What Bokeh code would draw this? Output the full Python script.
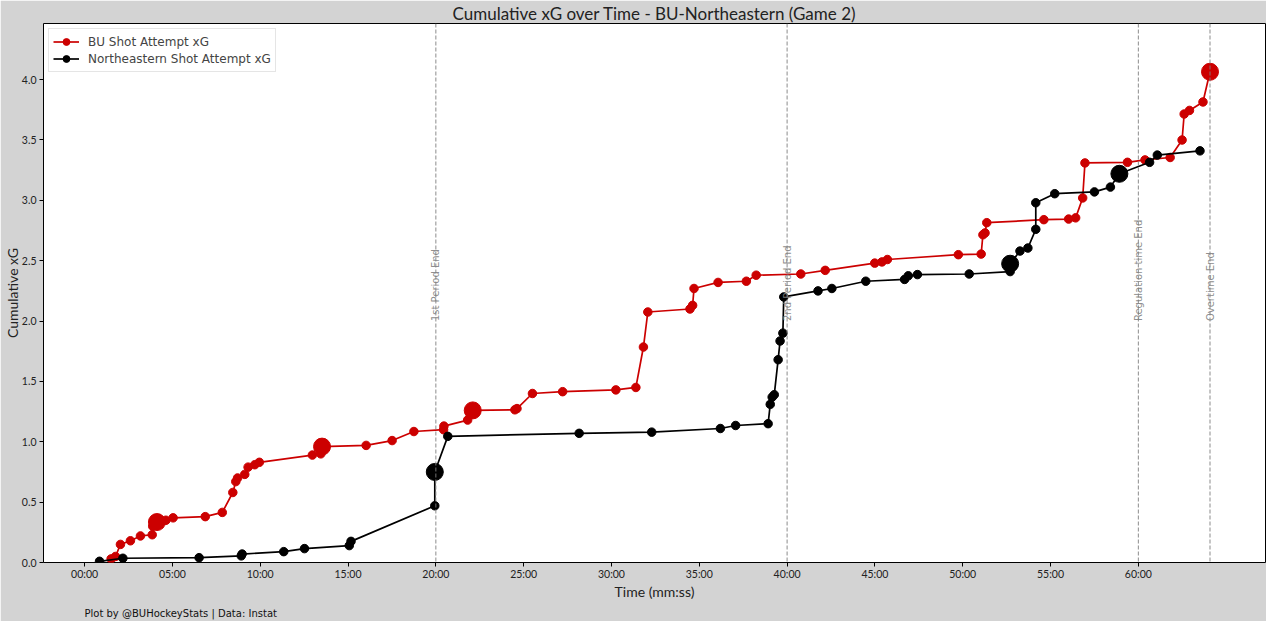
import math
from bokeh.plotting import figure
from bokeh.models import (ColumnDataSource, Span, Label, Legend, LegendItem,
                          FixedTicker, Title, Range1d)
from bokeh.embed import file_html
from bokeh.resources import INLINE

# ---------------- data (time in minutes, cumulative xG) ----------------
BU_TIME = [1.51, 1.76, 2.04, 2.61, 3.18, 3.85, 3.88, 4.12, 4.63, 5.04,
           6.87, 7.84, 8.44, 8.61, 8.71, 9.12, 9.31, 9.69, 9.95, 12.97,
           13.45, 13.52, 16.03, 17.51, 18.75, 20.44, 20.46, 21.81, 22.10, 24.50,
           24.62, 25.50, 27.22, 30.25, 31.39, 31.82, 32.07, 34.47, 34.62, 34.70,
           36.07, 37.68, 38.24, 40.78, 42.17, 44.99, 45.40, 45.71, 49.75, 51.05,
           51.15, 51.27, 51.37, 54.62, 56.03, 56.43, 56.83, 56.96, 59.38, 60.38,
           61.81, 62.49, 62.61, 62.91, 63.68, 64.08]
BU_XG = [0.03, 0.05, 0.15, 0.18, 0.22, 0.23, 0.30, 0.335, 0.35, 0.37,
         0.38, 0.415, 0.58, 0.67, 0.70, 0.73, 0.79, 0.81, 0.83, 0.89,
         0.90, 0.96, 0.97, 1.01, 1.085, 1.10, 1.13, 1.18, 1.26, 1.265,
         1.275, 1.40, 1.415, 1.43, 1.45, 1.785, 2.075, 2.10, 2.13, 2.27,
         2.32, 2.33, 2.38, 2.39, 2.42, 2.48, 2.49, 2.51, 2.55, 2.555,
         2.715, 2.73, 2.815, 2.84, 2.845, 2.855, 3.02, 3.31, 3.315, 3.335,
         3.355, 3.50, 3.715, 3.745, 3.815, 4.065]
BU_GOAL = [0, 0, 0, 0, 0, 0, 0, 1, 0, 0,
           0, 0, 0, 0, 0, 0, 0, 0, 0, 0,
           0, 1, 0, 0, 0, 0, 0, 0, 1, 0,
           0, 0, 0, 0, 0, 0, 0, 0, 0, 0,
           0, 0, 0, 0, 0, 0, 0, 0, 0, 0,
           0, 0, 0, 0, 0, 0, 0, 0, 0, 0,
           0, 0, 0, 0, 0, 1]

NU_TIME = [0.85, 2.18, 6.52, 8.92, 8.97, 11.34, 12.52, 15.07, 15.17, 19.94,
           19.94, 20.68, 28.16, 32.29, 36.20, 37.07, 38.92, 39.04, 39.15, 39.27,
           39.49, 39.60, 39.76, 39.81, 41.76, 42.55, 44.48, 46.69, 46.90, 47.42,
           50.37, 52.70, 52.70, 53.26, 53.71, 54.16, 54.16, 55.24, 57.50, 58.41,
           58.92, 60.64, 61.08, 63.51]
NU_XG = [0.01, 0.035, 0.04, 0.055, 0.07, 0.09, 0.115, 0.14, 0.175, 0.47,
         0.75, 1.045, 1.07, 1.08, 1.11, 1.135, 1.15, 1.31, 1.37, 1.39,
         1.68, 1.835, 1.90, 2.20, 2.25, 2.27, 2.33, 2.345, 2.375, 2.385,
         2.39, 2.41, 2.475, 2.58, 2.605, 2.76, 2.98, 3.055, 3.07, 3.11,
         3.22, 3.315, 3.375, 3.41]
NU_GOAL = [0, 0, 0, 0, 0, 0, 0, 0, 0, 0,
           1, 0, 0, 0, 0, 0, 0, 0, 0, 0,
           0, 0, 0, 0, 0, 0, 0, 0, 0, 0,
           0, 0, 1, 0, 0, 0, 0, 0, 0, 0,
           1, 0, 0, 0]

SERIES_NAMES = ["BU Shot Attempt xG", "Northeastern Shot Attempt xG"]

X_TICKS = [0, 5, 10, 15, 20, 25, 30, 35, 40, 45, 50, 55, 60]
X_TICK_LABELS = ["00:00", "05:00", "10:00", "15:00", "20:00", "25:00", "30:00",
                 "35:00", "40:00", "45:00", "50:00", "55:00", "60:00"]
Y_TICKS = [0.0, 0.5, 1.0, 1.5, 2.0, 2.5, 3.0, 3.5, 4.0]
Y_TICK_LABELS = ["0.0", "0.5", "1.0", "1.5", "2.0", "2.5", "3.0", "3.5", "4.0"]

PERIOD_END_TIMES = [20.0, 40.0, 60.0, 64.08]
PERIOD_END_LABELS = ["1st Period End", "2nd Period End", "Regulation time End", "Overtime End"]

TITLE = "Cumulative xG over Time - BU-Northeastern (Game 2)"
X_LABEL = "Time (mm:ss)"
Y_LABEL = "Cumulative xG"
FOOTER = "Plot by @BUHockeyStats | Data: Instat"

# ---------------- styling ----------------
BG = "#d3d3d3"
RED = "#cc0000"
BLACK = "#000000"
SMALL = 8.5
BIG = 17

p = figure(width=1266, height=621, output_backend="svg", toolbar_location=None,
           x_range=Range1d(-2.34, 67.24), y_range=Range1d(0, 4.465),
           min_border_left=30, min_border_right=1, min_border_top=0,
           min_border_bottom=0)
p.background_fill_color = "white"
p.border_fill_color = BG
p.outline_line_color = "black"
p.outline_line_width = 1
p.grid.visible = False

p.title.text = TITLE
p.title.text_font = "Lato"
p.title.text_font_style = "normal"
p.title.text_font_size = "17px"
p.title.align = "center"
p.title.text_color = "#222222"
p.title.standoff = 0

for ax in (p.xaxis[0], p.yaxis[0]):
    ax.axis_line_color = None
    ax.major_tick_line_color = "black"
    ax.major_tick_in = 0
    ax.major_tick_out = 4
    ax.minor_tick_line_color = None
    ax.major_label_text_font = "Lato"
    ax.major_label_text_font_size = "10.5px"
    ax.major_label_text_color = "#222222"
    ax.axis_label_text_font = "Lato"
    ax.axis_label_text_font_style = "normal"
    ax.axis_label_text_font_size = "14px"
    ax.axis_label_text_color = "#222222"

p.xaxis[0].ticker = FixedTicker(ticks=X_TICKS)
p.xaxis[0].major_label_overrides = {t: l for t, l in zip(X_TICKS, X_TICK_LABELS)}
p.xaxis[0].axis_label = X_LABEL
p.xaxis[0].major_label_standoff = 1
p.xaxis[0].axis_label_standoff = 0
p.yaxis[0].ticker = FixedTicker(ticks=Y_TICKS)
p.yaxis[0].major_label_overrides = {t: l for t, l in zip(Y_TICKS, Y_TICK_LABELS)}
p.yaxis[0].axis_label = Y_LABEL
p.yaxis[0].major_label_standoff = 3
p.yaxis[0].axis_label_standoff = -2

# period end markers
for t, lab in zip(PERIOD_END_TIMES, PERIOD_END_LABELS):
    p.add_layout(Span(location=t, dimension="height", line_color="gray",
                      line_dash="4 2", line_width=1, line_alpha=0.9))
    p.add_layout(Label(x=t, y=2.0, text=lab, angle=math.pi / 2,
                       text_align="left", text_baseline="alphabetic",
                       text_font="DejaVu Sans", text_font_size="10px",
                       text_color="gray", text_alpha=0.9))

items = []
for name, times, xg, goals, col in ((SERIES_NAMES[0], BU_TIME, BU_XG, BU_GOAL, RED),
                                    (SERIES_NAMES[1], NU_TIME, NU_XG, NU_GOAL, BLACK)):
    src = ColumnDataSource(dict(t=times, xg=xg))
    lr = p.line("t", "xg", source=src, line_color=col, line_width=1.7)
    small = ColumnDataSource(dict(t=[a for a, g in zip(times, goals) if not g],
                                  xg=[b for b, g in zip(xg, goals) if not g]))
    big = ColumnDataSource(dict(t=[a for a, g in zip(times, goals) if g],
                                xg=[b for b, g in zip(xg, goals) if g]))
    sr = p.scatter("t", "xg", source=small, size=SMALL, fill_color=col, line_color=col)
    p.scatter("t", "xg", source=big, size=BIG, fill_color=col, line_color=col)
    items.append(LegendItem(label=name, renderers=[lr, sr]))

legend = Legend(items=items, location="top_left", margin=5, padding=4, spacing=0,
                glyph_width=26, glyph_height=17, label_standoff=9,
                label_text_font="DejaVu Sans", label_text_font_size="12px",
                label_height=17, border_line_color="#cccccc",
                background_fill_color="white", background_fill_alpha=0.85)
p.add_layout(legend)

p.add_layout(Title(text=FOOTER, align="left", text_font="DejaVu Sans",
                   text_font_size="10px", text_font_style="normal",
                   text_color="#111111", offset=41, standoff=6), "below")

html = file_html(p, INLINE, title="Cumulative xG")
html = html.replace("<body>", '<body style="background-color:%s;">' % BG, 1)
open("out.html", "w").write(html)
